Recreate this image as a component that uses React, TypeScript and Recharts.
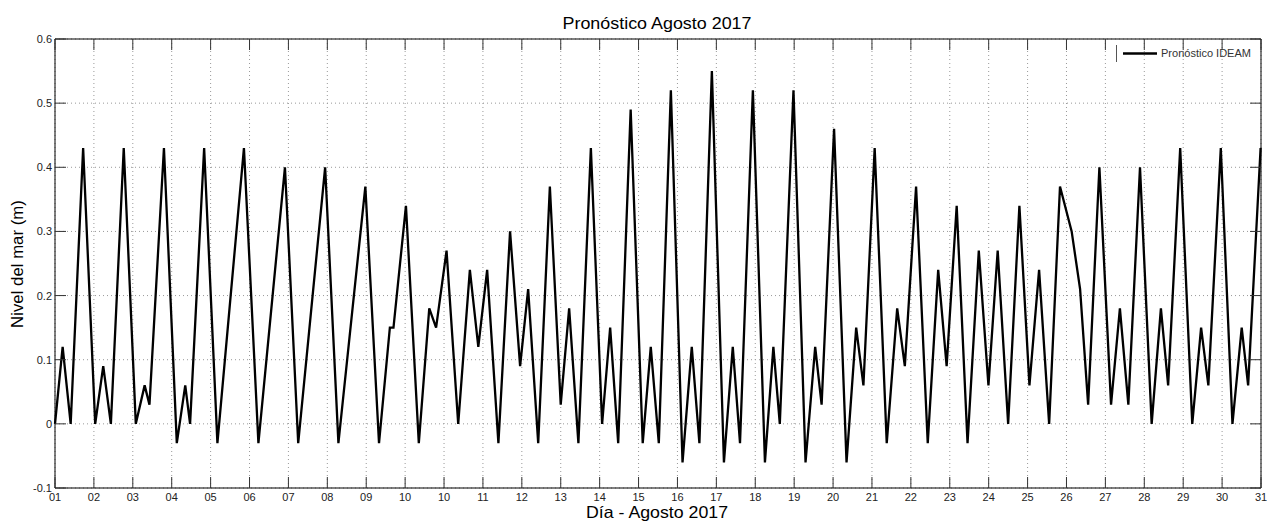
import React from 'react';
import { LineChart, Line, XAxis, YAxis, CartesianGrid, Legend, ReferenceLine } from 'recharts';

// días transcurridos desde el 01 de agosto (00:00) y nivel del mar pronosticado (m)
const DAYS = [
  0.0, 0.19, 0.39, 0.7, 1.0, 1.2, 1.39, 1.71, 2.01, 2.23,
  2.35, 2.71, 3.03, 3.24, 3.36, 3.71, 4.04, 4.7, 5.06, 5.72,
  6.05, 6.72, 7.05, 7.72, 8.06, 8.33, 8.42, 8.73, 9.05, 9.31,
  9.48, 9.74, 10.03, 10.32, 10.53, 10.75, 11.03, 11.32, 11.57, 11.77,
  12.02, 12.31, 12.58, 12.79, 13.02, 13.33, 13.61, 13.81, 14.01, 14.32,
  14.62, 14.82, 15.02, 15.32, 15.61, 15.84, 16.03, 16.34, 16.64, 16.86,
  17.04, 17.36, 17.66, 17.87, 18.03, 18.37, 18.67, 18.91, 19.07, 19.38,
  19.69, 19.93, 20.11, 20.39, 20.69, 20.95, 21.14, 21.42, 21.71, 21.97,
  22.18, 22.43, 22.7, 22.98, 23.22, 23.45, 23.71, 23.99, 24.24, 24.48,
  24.73, 25.0, 25.29, 25.5, 25.7, 25.98, 26.27, 26.49, 26.7, 26.99,
  27.28, 27.51, 27.69, 27.99, 28.29, 28.51, 28.69, 29.0, 29.29, 29.52,
  29.68, 29.99,
];

const LEVEL = [
  0.0, 0.12, 0.0, 0.43, 0.0, 0.09, 0.0, 0.43, 0.0, 0.06,
  0.03, 0.43, -0.03, 0.06, 0.0, 0.43, -0.03, 0.43, -0.03, 0.4,
  -0.03, 0.4, -0.03, 0.37, -0.03, 0.15, 0.15, 0.34, -0.03, 0.18,
  0.15, 0.27, 0.0, 0.24, 0.12, 0.24, -0.03, 0.3, 0.09, 0.21,
  -0.03, 0.37, 0.03, 0.18, -0.03, 0.43, 0.0, 0.15, -0.03, 0.49,
  -0.03, 0.12, -0.03, 0.52, -0.06, 0.12, -0.03, 0.55, -0.06, 0.12,
  -0.03, 0.52, -0.06, 0.12, 0.0, 0.52, -0.06, 0.12, 0.03, 0.46,
  -0.06, 0.15, 0.06, 0.43, -0.03, 0.18, 0.09, 0.37, -0.03, 0.24,
  0.09, 0.34, -0.03, 0.27, 0.06, 0.27, 0.0, 0.34, 0.06, 0.24,
  0.0, 0.37, 0.3, 0.21, 0.03, 0.4, 0.03, 0.18, 0.03, 0.4,
  0.0, 0.18, 0.06, 0.43, 0.0, 0.15, 0.06, 0.43, 0.0, 0.15,
  0.06, 0.43,
];

// etiquetas tal como aparecen en el eje (el "10" sale repetido)
const DAY_LABELS = [
  '01', '02', '03', '04', '05', '06', '07', '08', '09', '10',
  '10', '11', '12', '13', '14', '15', '16', '17', '18', '19',
  '20', '21', '22', '23', '24', '25', '26', '27', '28', '29',
  '30', '31',
];

const LEVEL_TICKS = [-0.1, 0, 0.1, 0.2, 0.3, 0.4, 0.5, 0.6];

const data = DAYS.map((d, i) => ({ dia: d, nivel: LEVEL[i] }));
const dayTicks = DAY_LABELS.map((_, i) => (i * 30) / (DAY_LABELS.length - 1));

const FONT = '"Liberation Sans", Arial, Helvetica, sans-serif';
const W = 1267;
const H = 524;
const PLOT_W = 1206;
const PLOT_H = 449;
const TICK_LEN = 11;
const TICK_COLOR = '#333';

// ticks hacia adentro, abajo y arriba (estilo MATLAB)
const BottomTick = (props: any) => {
  const { x, y, index } = props;
  return (
    <g>
      <line x1={x} y1={y} x2={x} y2={y - TICK_LEN} stroke={TICK_COLOR} />
      <line x1={x} y1={y - PLOT_H} x2={x} y2={y - PLOT_H + TICK_LEN} stroke={TICK_COLOR} />
      <text x={x} y={y + 13} textAnchor="middle" fontSize={11} fontFamily={FONT} fill="#222">
        {DAY_LABELS[index]}
      </text>
    </g>
  );
};

const LeftTick = (props: any) => {
  const { x, y, payload } = props;
  return (
    <g>
      <line x1={x} y1={y} x2={x + TICK_LEN} y2={y} stroke={TICK_COLOR} />
      <line x1={x + PLOT_W} y1={y} x2={x + PLOT_W - TICK_LEN} y2={y} stroke={TICK_COLOR} />
      <text x={x - 3} y={y + 4} textAnchor="end" fontSize={11} fontFamily={FONT} fill="#222">
        {String(payload.value)}
      </text>
    </g>
  );
};

const LegendBox = () => (
  <svg width={150} height={18} style={{ display: 'block' }}>
    <line x1={0.5} y1={0} x2={0.5} y2={17} stroke="#555" />
    <line x1={7} y1={8.5} x2={41} y2={8.5} stroke="#000" strokeWidth={2.5} />
    <text
      x={45}
      y={12}
      fontSize={10}
      fontFamily={FONT}
      fill="#333"
      textLength={90}
      lengthAdjust="spacingAndGlyphs"
    >
      Pronóstico IDEAM
    </text>
  </svg>
);

export default function App() {
  return (
    <div style={{ position: 'absolute', left: 0, top: 0, width: W, height: H, background: '#fff' }}>
      <LineChart width={W} height={H} data={data} margin={{ top: 39, right: 6, bottom: 0, left: 0 }}>
        <CartesianGrid strokeDasharray="1 3" stroke="#999" />
        <XAxis
          dataKey="dia"
          type="number"
          domain={[0, 30]}
          ticks={dayTicks}
          interval={0}
          height={36}
          tickSize={0}
          tickMargin={0}
          tickLine={false}
          axisLine={{ stroke: '#000' }}
          tick={(p: any) => <BottomTick {...p} />}
        />
        <YAxis
          type="number"
          domain={[-0.1, 0.6]}
          ticks={LEVEL_TICKS}
          interval={0}
          width={55}
          tickSize={0}
          tickMargin={0}
          tickLine={false}
          axisLine={{ stroke: '#000' }}
          tick={(p: any) => <LeftTick {...p} />}
        />
        <ReferenceLine y={0.6} stroke="#000" />
        <ReferenceLine x={30} stroke="#000" />
        <Legend
          layout="horizontal"
          align="center"
          verticalAlign="middle"
          wrapperStyle={{ top: 45, left: 1116, width: 150 }}
          content={() => <LegendBox />}
        />
        <Line
          type="linear"
          dataKey="nivel"
          name="Pronóstico IDEAM"
          stroke="#000"
          strokeWidth={2.3}
          dot={false}
          isAnimationActive={false}
        />
      </LineChart>
      <svg
        width={W}
        height={H}
        style={{ position: 'absolute', left: 0, top: 0, pointerEvents: 'none' }}
      >
        <text
          x={657}
          y={29}
          textAnchor="middle"
          fontSize={16.5}
          fontFamily={FONT}
          fill="#000"
          textLength={189}
          lengthAdjust="spacingAndGlyphs"
        >
          Pronóstico Agosto 2017
        </text>
        <text
          x={657}
          y={518}
          textAnchor="middle"
          fontSize={16.5}
          fontFamily={FONT}
          fill="#000"
          textLength={142}
          lengthAdjust="spacingAndGlyphs"
        >
          Día - Agosto 2017
        </text>
        <text
          x={0}
          y={0}
          transform="translate(23,264) rotate(-90)"
          textAnchor="middle"
          fontSize={16.8}
          fontFamily={FONT}
          fill="#000"
        >
          Nivel del mar (m)
        </text>
      </svg>
    </div>
  );
}
